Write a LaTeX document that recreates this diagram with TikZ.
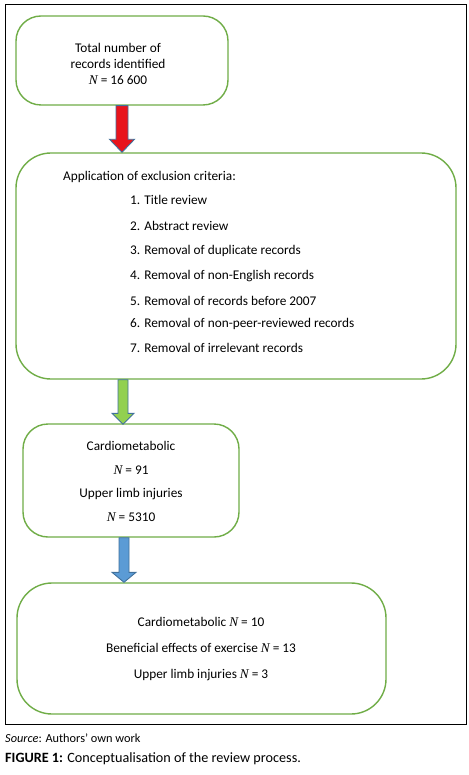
\documentclass[tikz,border=0pt]{standalone}
\usepackage{fontspec}
\setmainfont{Carlito}
\newfontfamily\nfont{Liberation Serif}
\newcommand\NN{{\nfont\itshape N}}
\usetikzlibrary{calc}
\definecolor{boxgreen}{HTML}{70AD47}
\definecolor{arrowred}{HTML}{E8141C}
\definecolor{arrowgreen}{HTML}{92D050}
\definecolor{arrowblue}{HTML}{5B9BD5}
\definecolor{arrowedge}{HTML}{41719C}
\tikzset{
  box/.style={draw=boxgreen, line width=1.4pt, fill=white, inner sep=0pt},
  txt/.style={inner sep=0pt, font=\fontsize{13.3}{16}\selectfont},
  item/.style={txt, anchor=west},
  arrowline/.style={draw=arrowedge, line width=0.9pt, line join=miter},
  captext/.style={inner sep=0pt, anchor=west}
}
\begin{document}
\begin{tikzpicture}[x=1pt,y=-1pt]
\useasboundingbox (0,0) rectangle (468,775);
\fill[white] (0,0) rectangle (468,775);
\draw[line width=1pt] (5,4.5) rectangle (466,724);

% boxes
\node[box, minimum width=212pt, minimum height=89pt, rounded corners=25pt] (b1) at (122,60.5) {};
\node[box, minimum width=440pt, minimum height=226pt, rounded corners=35pt] (b2) at (236,266) {};
\node[box, minimum width=216pt, minimum height=113pt, rounded corners=25pt] (b3) at (131,480.5) {};
\node[box, minimum width=369pt, minimum height=131pt, rounded corners=35pt] (b4) at (201.5,648.5) {};

% texts
\node[txt, align=center] (t1) at (118,64) {Total number of\\records identified\\\NN{} = 16 600};
\node[item] (t2) at (63,177) {Application of exclusion criteria:};
\node[item] (i1) at (130,200) {1. Title review};
\node[item] (i2) at (130,226) {2. Abstract review};
\node[item] (i3) at (130,251) {3. Removal of duplicate records};
\node[item] (i4) at (130,276) {4. Removal of non-English records};
\node[item] (i5) at (130,301) {5. Removal of records before 2007};
\node[item] (i6) at (130,324) {6. Removal of non-peer-reviewed records};
\node[item] (i7) at (130,348) {7. Removal of irrelevant records};
\node[txt, align=center, font=\fontsize{13.3}{23.7}\selectfont] (t3) at (131,481.5) {Cardiometabolic\\\NN{} = 91\\Upper limb injuries\\\NN{} = 5310};
\node[txt, align=center, font=\fontsize{13.3}{26}\selectfont] (t4) at (201,649) {Cardiometabolic \NN{} = 10\\Beneficial effects of exercise \NN{} = 13\\Upper limb injuries \NN{} = 3};

% arrows
\coordinate (xa) at (122,0);
\coordinate (xb) at (123,0);
\coordinate (xc) at (124,0);
\draw[arrowline, fill=arrowred] ($(xa|-b1.south)+(-6,0)$) -- ($(xa|-b2.north)+(-6,-13)$) -- ($(xa|-b2.north)+(-12.5,-13)$) -- (xa|-b2.north) -- ($(xa|-b2.north)+(12.5,-13)$) -- ($(xa|-b2.north)+(6,-13)$) -- ($(xa|-b1.south)+(6,0)$) -- cycle;
\draw[arrowline, fill=arrowgreen] ($(xb|-b2.south)+(-5,0)$) -- ($(xb|-b3.north)+(-5,-10)$) -- ($(xb|-b3.north)+(-11,-10)$) -- ($(xb|-b3.north)+(0,1)$) -- ($(xb|-b3.north)+(11,-10)$) -- ($(xb|-b3.north)+(5,-10)$) -- ($(xb|-b2.south)+(5,0)$) -- cycle;
\draw[arrowline, fill=arrowblue] ($(xc|-b3.south)+(-5,0)$) -- ($(xc|-b4.north)+(-5,-10)$) -- ($(xc|-b4.north)+(-12,-10)$) -- (xc|-b4.north) -- ($(xc|-b4.north)+(12,-10)$) -- ($(xc|-b4.north)+(5,-10)$) -- ($(xc|-b3.south)+(5,0)$) -- cycle;

% caption
\node[captext, font=\fontsize{12.3}{14}\selectfont] (src) at (5,738) {\textit{Source}: Authors’ own work};
\node[captext, font=\fontsize{14.2}{16}\selectfont] (fig) at (5,759) {\textbf{FIGURE 1:} Conceptualisation of the review process.};
\end{tikzpicture}
\end{document}
